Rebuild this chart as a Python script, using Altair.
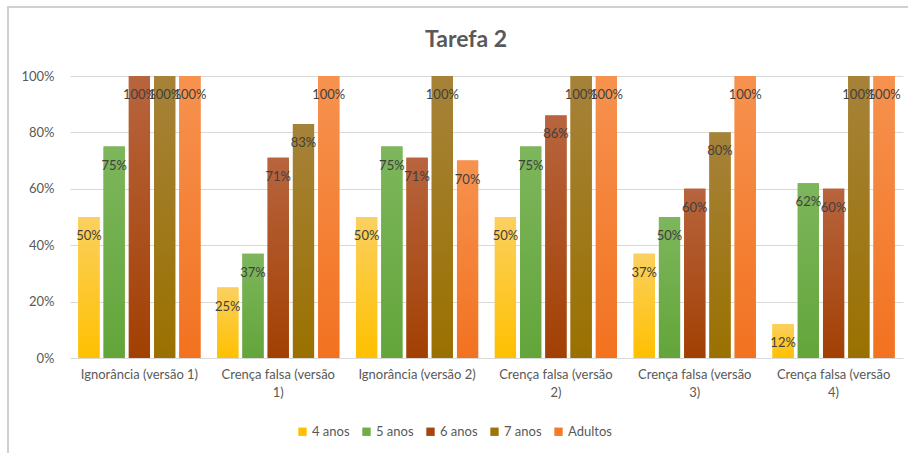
import altair as alt
import pandas as pd

title_text = "Tarefa 2"
categories = ["Ignorância (versão 1)", "Crença falsa (versão 1)", "Ignorância (versão 2)",
              "Crença falsa (versão 2)", "Crença falsa (versão 3)", "Crença falsa (versão 4)"]
series = ["4 anos", "5 anos", "6 anos", "7 anos", "Adultos"]
values = {
    "4 anos":  [50, 25, 50, 50, 37, 12],
    "5 anos":  [75, 37, 75, 75, 50, 62],
    "6 anos":  [100, 71, 71, 86, 60, 60],
    "7 anos":  [100, 83, 100, 100, 80, 100],
    "Adultos": [100, 100, 70, 100, 100, 100],
}
solid = ["#FFC000", "#70AD47", "#A5460F", "#9C7407", "#F47B2C"]
grad_top = ["#FBD060", "#7DB65C", "#B8643E", "#A6823A", "#F6924F"]
grad_bot = ["#FFC000", "#63A53A", "#A24003", "#9A7100", "#F27220"]

rows = []
for s in series:
    for c, v in zip(categories, values[s]):
        rows.append({"cat": c, "serie": s, "pct": v, "val": v / 100, "lbl": f"{v}%"})
df = pd.DataFrame(rows)
one = pd.DataFrame({"t": [title_text]})

FONT = "Lato"
x_enc = alt.X("cat:N", sort=categories, title=None,
              scale=alt.Scale(paddingInner=0.12, paddingOuter=0.06),
              axis=alt.Axis(labelAngle=0, labelFont=FONT, labelFontSize=13, labelColor="#595959",
                            labelLimit=200, domain=False, ticks=False, labelPadding=10,
                            labelLineHeight=18,
                            labelExpr="length(datum.label) > 22 ? [substring(datum.label, 0, 20), substring(datum.label, 21)] : datum.label"))
xo_enc = alt.XOffset("serie:N", sort=series, scale=alt.Scale(paddingInner=0.16, paddingOuter=0.0))
y_enc = alt.Y("val:Q", title=None, scale=alt.Scale(domain=[0, 1], nice=False),
              axis=alt.Axis(format="%", values=[0, 0.2, 0.4, 0.6, 0.8, 1.0], domain=False, ticks=False,
                            labelFont=FONT, labelFontSize=13, labelColor="#595959", labelPadding=16,
                            gridColor="#D9D9D9", gridWidth=1))

base = alt.Chart(df).encode(x=x_enc, xOffset=xo_enc, y=y_enc)

legend_layer = base.mark_bar().encode(
    color=alt.Color("serie:N", sort=series, title=None,
                    scale=alt.Scale(domain=series, range=solid),
                    legend=alt.Legend(orient="none", direction="horizontal", legendX=226, legendY=349,
                                      symbolType="square", symbolSize=70, symbolStrokeWidth=0,
                                      labelFont=FONT, labelFontSize=13, labelColor="#595959",
                                      columnPadding=10, labelOffset=3))
)

grad_layers = []
for s, t, b in zip(series, grad_top, grad_bot):
    grad_layers.append(
        base.transform_filter(alt.datum.serie == s).mark_bar(
            color=alt.Gradient(gradient="linear", x1=0, x2=0, y1=0, y2=1,
                               stops=[alt.GradientStop(color=t, offset=0),
                                      alt.GradientStop(color=b, offset=1)])
        )
    )

text_layer = base.mark_text(font=FONT, fontSize=13, color="#404040", baseline="middle", dy=19).encode(
    text="lbl:N")

frame_left = alt.Chart(one).mark_rule(stroke="#D0D0D0", strokeWidth=2).encode(
    x=alt.value(-62), y=alt.value(-69), y2=alt.value(377))
frame_top = alt.Chart(one).mark_rule(stroke="#D0D0D0", strokeWidth=2).encode(
    x=alt.value(-63), x2=alt.value(838), y=alt.value(-69))

title_layer = alt.Chart(one).mark_text(font=FONT, fontSize=23, fontWeight="bold", color="#595959",
                                       align="center", baseline="middle").encode(
    x=alt.value(396), y=alt.value(-36), text="t:N")

chart = alt.layer(frame_left, frame_top, legend_layer, *grad_layers, text_layer, title_layer).properties(
    width=833, height=282,
    autosize=alt.AutoSizeParams(type="none"),
    padding={"left": 70, "top": 76, "right": 7, "bottom": 97},
).configure(background="white", view=alt.ViewConfig(stroke=None))

chart.save("out.html", embed_options={"renderer": "svg", "actions": False})
